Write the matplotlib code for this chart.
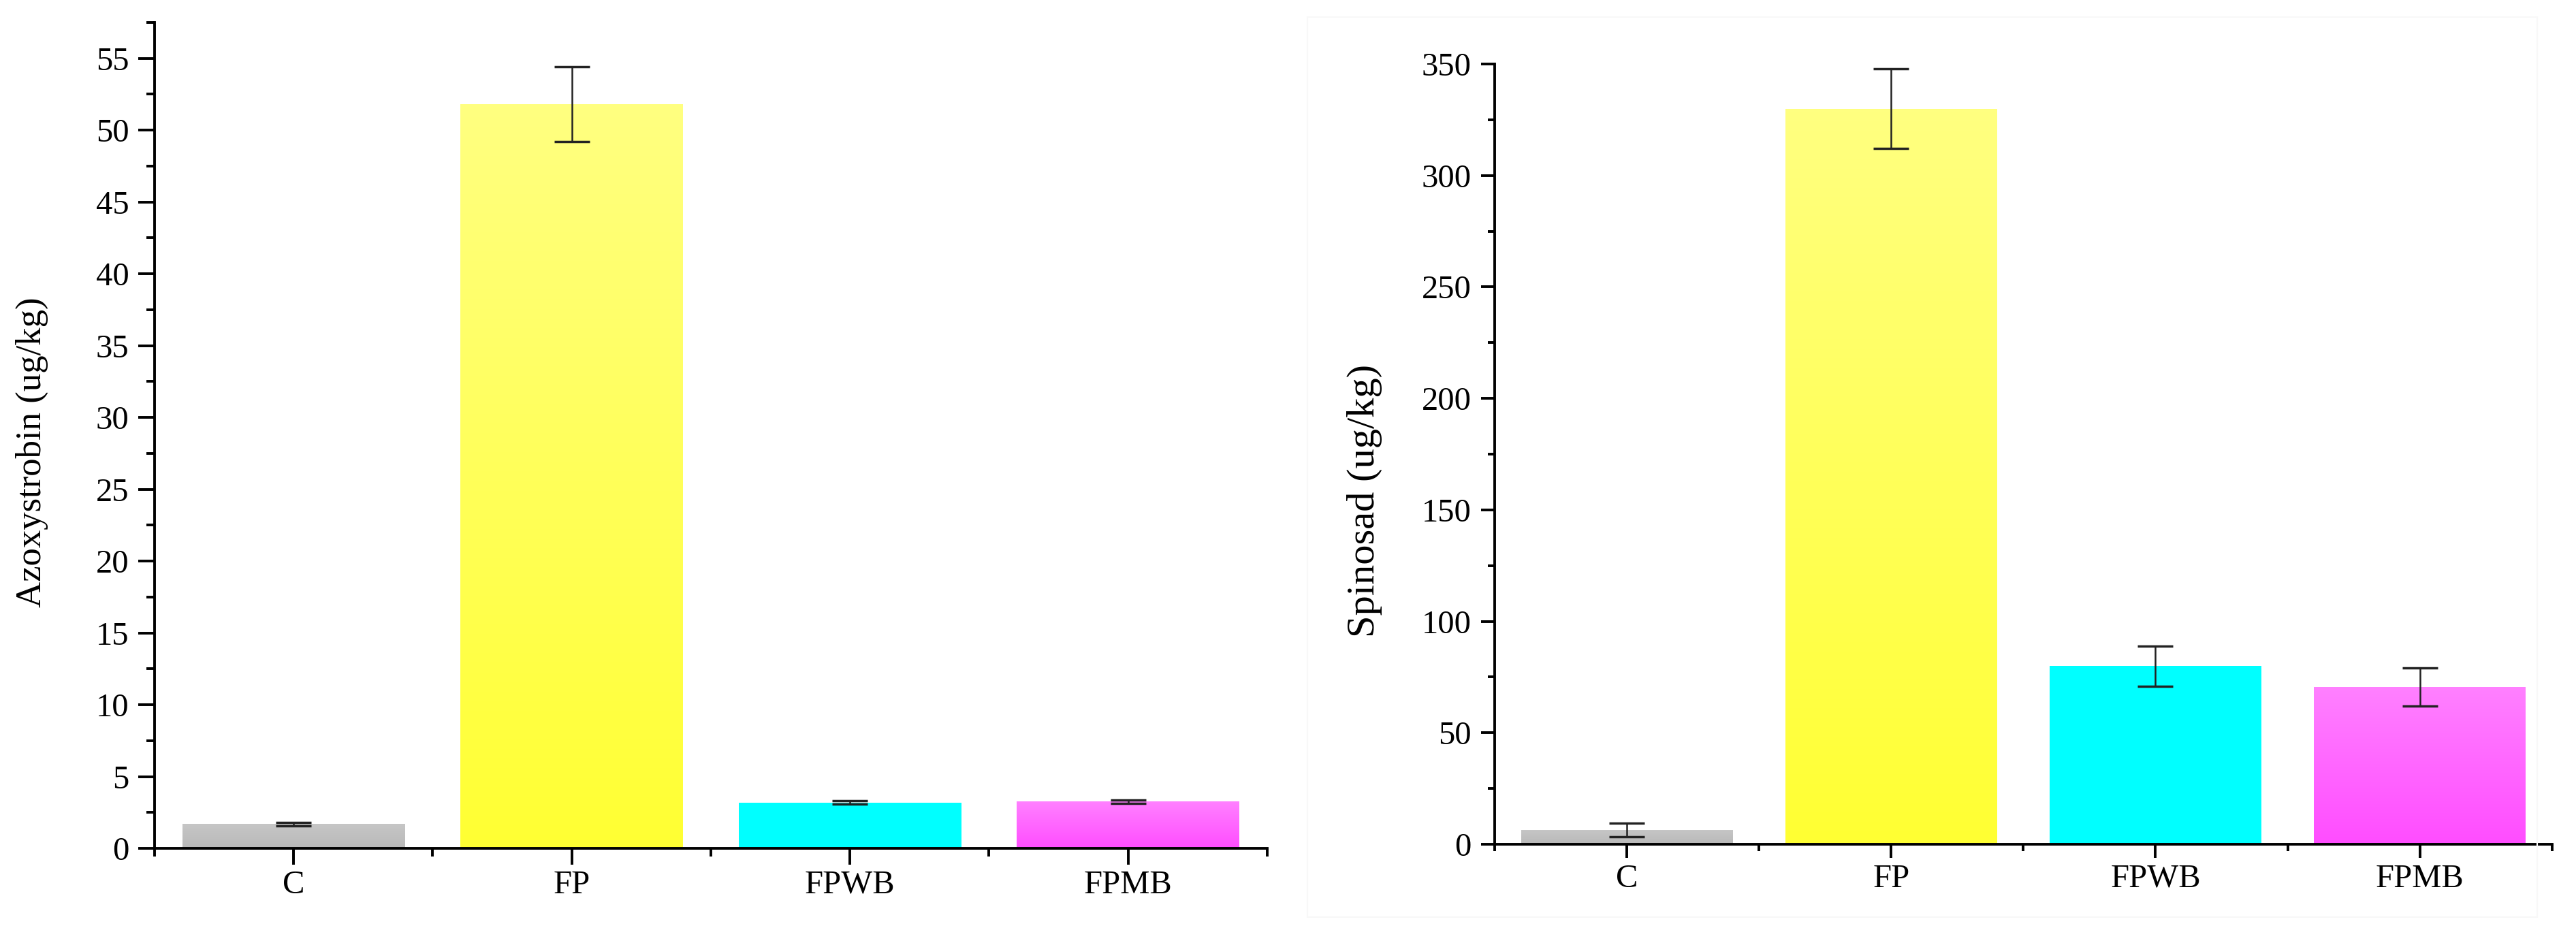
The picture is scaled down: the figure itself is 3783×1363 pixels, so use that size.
import numpy as np
import matplotlib
matplotlib.use('Agg')
import matplotlib.pyplot as plt
from matplotlib.ticker import MultipleLocator, FixedLocator

plt.rcParams['font.family'] = ['Liberation Serif', 'DejaVu Serif']

groups = ['C', 'FP', 'FPWB', 'FPMB']
azo_mean = [1.7, 51.8, 3.2, 3.25]
azo_err = [0.12, 2.6, 0.12, 0.12]
spi_mean = [6.5, 330, 80, 70.5]
spi_err = [3.0, 18, 9, 8.5]

# top / bottom colours of each bar's vertical gradient
top_cols = ['#c6c6c6', '#ffff80', '#00ffff', '#ff80ff']
bot_cols = ['#b9b9b9', '#ffff33', '#00ffff', '#ff4dff']

fig = plt.figure(figsize=(37.83, 13.63), dpi=100)
ax1 = fig.add_axes([0.0600, 0.0858, 0.4319, 0.8900])
ax2 = fig.add_axes([0.5802, 0.0902, 0.4105, 0.8408])

# very faint frame around the right panel
fig.patches.append(plt.Rectangle((1920 / 3783, 0.012), 0.985 - 1920 / 3783, 0.97,
                                 transform=fig.transFigure, fill=False,
                                 edgecolor='#f8f8f8', linewidth=1.5))


def grad_bars(ax, vals, errs, ymax, major, minor, ylabel, lab_size, lab_x, lab_y, tlen):
    x = np.arange(len(groups))
    bars = ax.bar(x, vals, width=0.8, color=bot_cols, zorder=2)
    for b, tc, bc in zip(bars, top_cols, bot_cols):
        c1 = np.array(matplotlib.colors.to_rgb(tc))
        c2 = np.array(matplotlib.colors.to_rgb(bc))
        t = np.linspace(0, 1, 100)[:, None]
        img = (c1 * (1 - t) + c2 * t)[:, None, :]
        im = ax.imshow(img, extent=[b.get_x(), b.get_x() + b.get_width(), 0, b.get_height()],
                       aspect='auto', zorder=2, interpolation='bilinear')
        im.set_clip_path(b)
    ax.errorbar(x, vals, yerr=errs, fmt='none', ecolor='#222222', elinewidth=1.8,
                capsize=19, capthick=2.5, zorder=3)
    ax.set_xlim(-0.5, 3.5)
    ax.set_ylim(0, ymax)
    ax.set_xticks(x)
    ax.set_xticklabels(groups)
    ax.xaxis.set_minor_locator(FixedLocator([-0.5, 0.5, 1.5, 2.5, 3.5]))
    ax.yaxis.set_major_locator(MultipleLocator(major))
    ax.yaxis.set_minor_locator(MultipleLocator(minor))
    for s in ['top', 'right']:
        ax.spines[s].set_visible(False)
    for s in ['left', 'bottom']:
        ax.spines[s].set_linewidth(2.8)
        ax.spines[s].set_zorder(4)
    ax.tick_params(axis='both', which='major', direction='out', length=tlen, width=2.8,
                   labelsize=35)
    ax.tick_params(axis='both', which='minor', direction='out', length=tlen / 2, width=2.8)
    ax.tick_params(axis='y', which='major', pad=10)
    ax.tick_params(axis='x', which='major', pad=6)
    ax.set_ylabel(ylabel, fontsize=lab_size)
    ax.yaxis.label.set_va('center')
    ax.yaxis.set_label_coords(lab_x, lab_y)


grad_bars(ax1, azo_mean, azo_err, 57.5, 5, 2.5, 'Azoxystrobin (ug/kg)', 38, -0.110, 0.48, 17)
grad_bars(ax2, spi_mean, spi_err, 350, 50, 25, 'Spinosad (ug/kg)', 42, -0.123, 0.44, 14.5)

fig.savefig('out.png', dpi=100)
